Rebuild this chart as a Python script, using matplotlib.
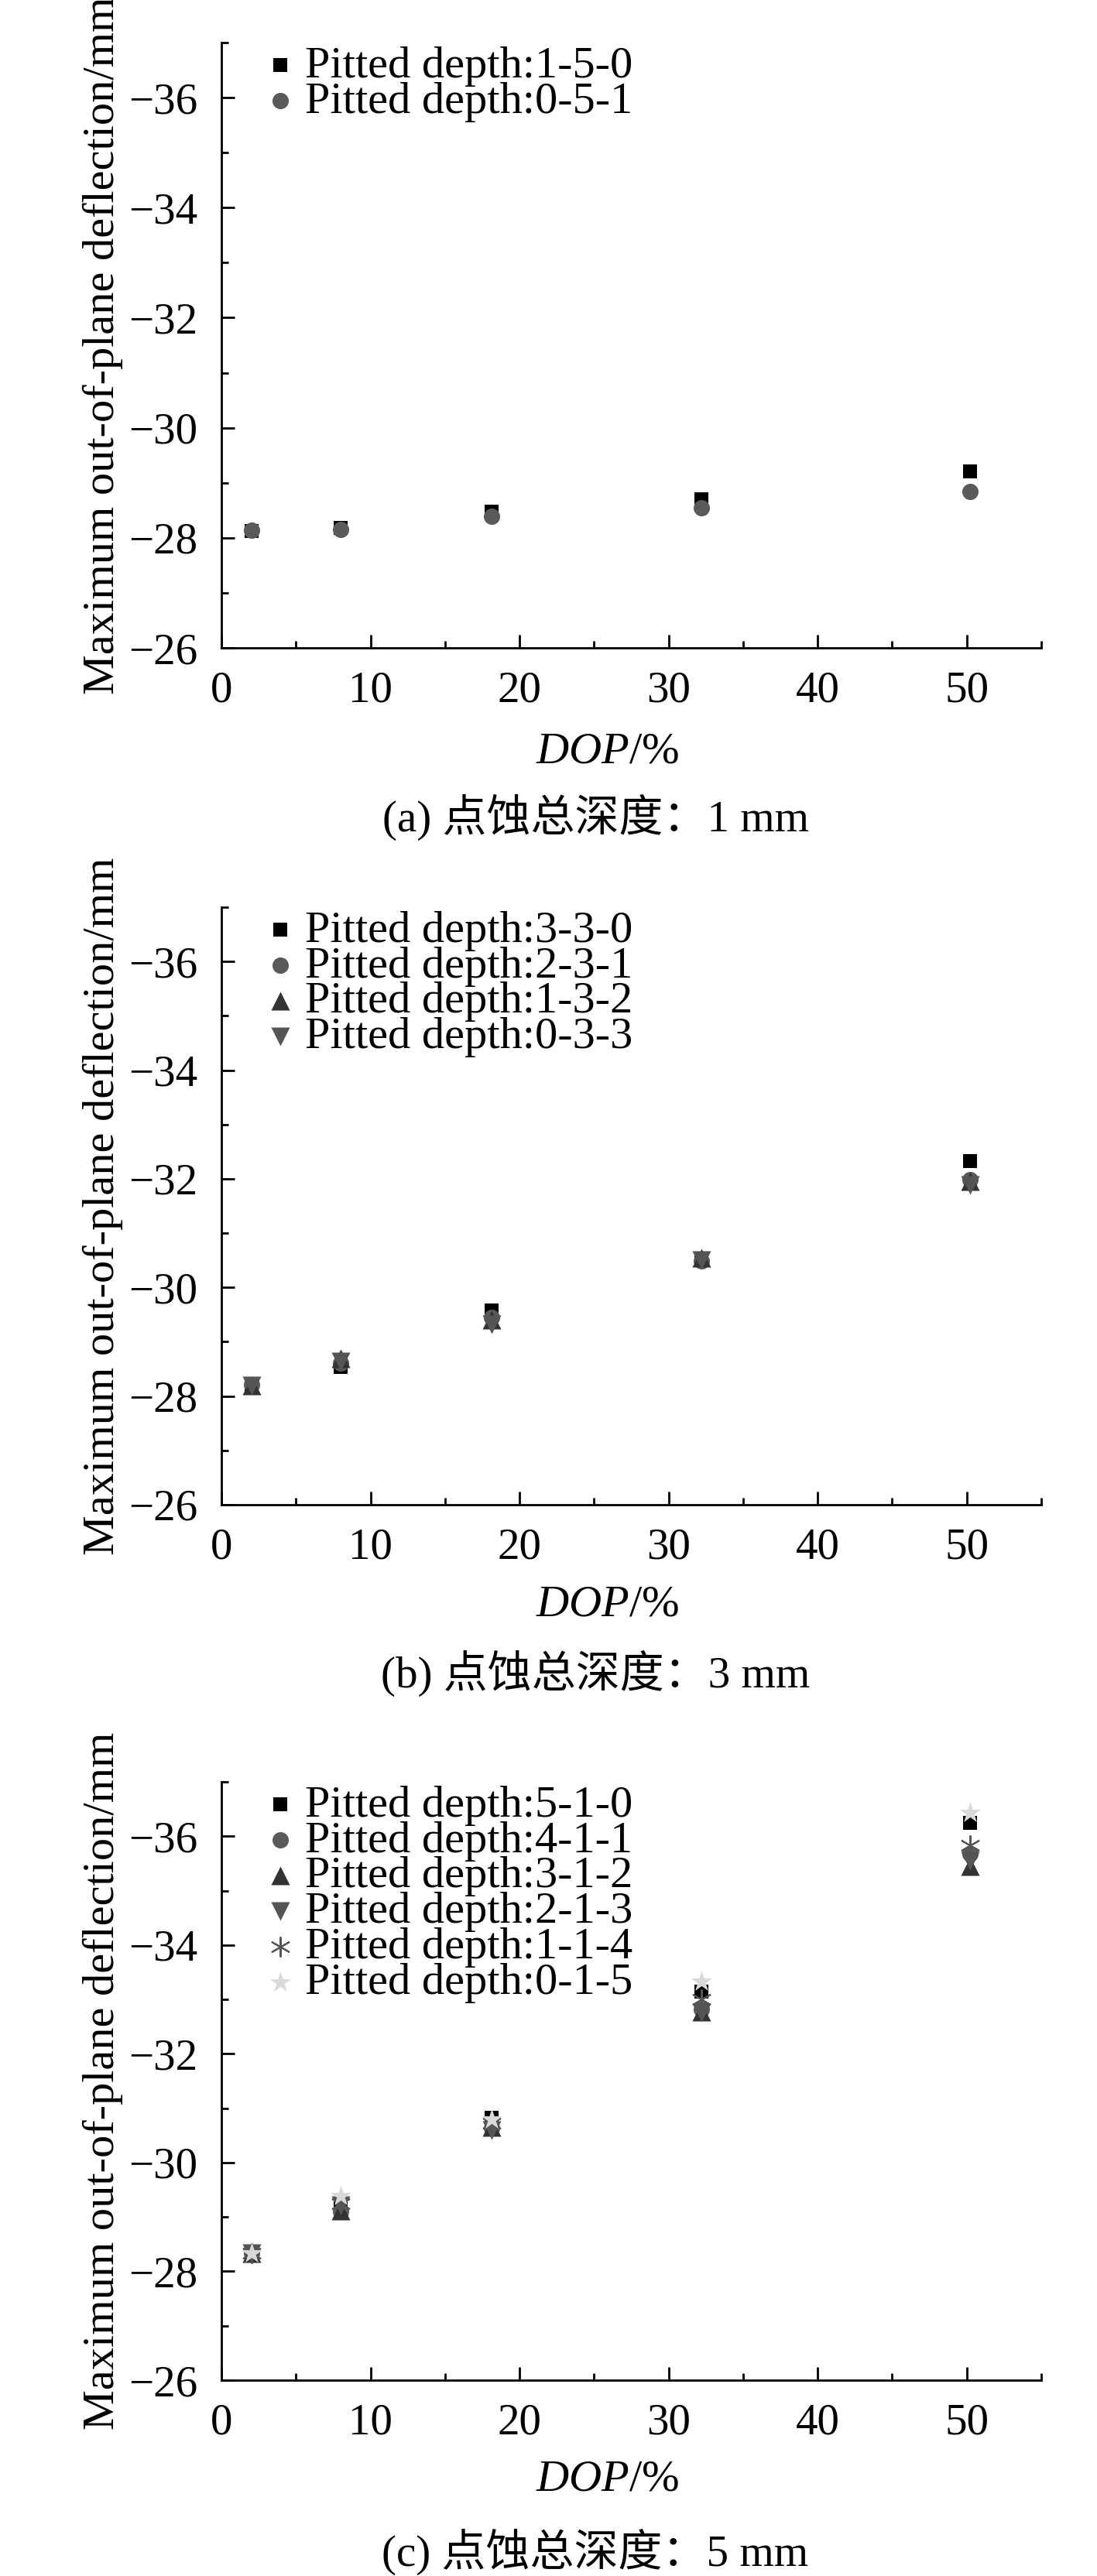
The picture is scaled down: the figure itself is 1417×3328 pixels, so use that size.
import matplotlib
matplotlib.use("Agg")
import matplotlib.pyplot as plt
from matplotlib.ticker import MultipleLocator

plt.rcParams['font.family'] = ['Liberation Serif', 'Noto Sans CJK SC']
plt.rcParams['mathtext.fontset'] = 'custom'
plt.rcParams['mathtext.it'] = 'Liberation Serif:italic'
plt.rcParams['mathtext.rm'] = 'Liberation Serif'

# DOP values (%)
dop = [2.0, 8.0, 18.1, 32.2, 50.2]

# (a) total pitting depth 1 mm
labels_a = ["Pitted depth:1-5-0", "Pitted depth:0-5-1"]
values_a = [
    [-28.13, -28.18, -28.48, -28.70, -29.21],
    [-28.14, -28.15, -28.39, -28.54, -28.84],
]

# (b) total pitting depth 3 mm
labels_b = ["Pitted depth:3-3-0", "Pitted depth:2-3-1",
            "Pitted depth:1-3-2", "Pitted depth:0-3-3"]
values_b = [
    [-28.21, -28.53, -29.57, -30.51, -32.33],
    [-28.21, -28.61, -29.45, -30.49, -31.99],
    [-28.20, -28.69, -29.40, -30.55, -31.96],
    [-28.20, -28.64, -29.32, -30.50, -31.89],
]

# (c) total pitting depth 5 mm
labels_c = ["Pitted depth:5-1-0", "Pitted depth:4-1-1", "Pitted depth:3-1-2",
            "Pitted depth:2-1-3", "Pitted depth:1-1-4", "Pitted depth:0-1-5"]
values_c = [
    [-28.33, -29.20, -30.82, -33.14, -36.25],
    [-28.33, -29.10, -30.64, -32.81, -35.67],
    [-28.33, -29.12, -30.66, -32.78, -35.45],
    [-28.33, -29.21, -30.60, -32.76, -35.55],
    [-28.33, -29.25, -30.72, -33.00, -35.84],
    [-28.33, -29.38, -30.80, -33.33, -36.43],
]

captions = ["(a) 点蚀总深度：1 mm", "(b) 点蚀总深度：3 mm", "(c) 点蚀总深度：5 mm"]

markers = ['s', 'o', '^', 'v', (6, 2, 0), '*']
colors = ['#000000', '#5a5a5a', '#333333', '#555555', '#555555', '#d9d9d9']
sizes = [170, 230, 300, 300, 320, 420]

W, H = 1417, 3328
fig = plt.figure(figsize=(W / 100, H / 100), dpi=100)

# axes boxes in pixels: top, bottom
boxes = [(55, 837), (1172, 1944), (2302, 3075)]
xlab_y = [972, 2073, 3203]
cap_y = [1056, 2162, 3297]
left, right = 286, 1345

panels = [(labels_a, values_a), (labels_b, values_b), (labels_c, values_c)]

for k, (labels, values) in enumerate(panels):
    top, bot = boxes[k]
    ax = fig.add_axes([left / W, 1 - bot / H, (right - left) / W, (bot - top) / H])
    for i, (lab, vals) in enumerate(zip(labels, values)):
        lw = 1.5 if markers[i] == (6, 2, 0) else 0
        ax.scatter(dop, vals, marker=markers[i], s=sizes[i], color=colors[i],
                   linewidths=lw, label=lab)

    ax.set_xlim(0, 55)
    ax.set_ylim(-26, -37)
    ax.xaxis.set_major_locator(MultipleLocator(10))
    ax.xaxis.set_minor_locator(MultipleLocator(5))
    ax.yaxis.set_major_locator(MultipleLocator(2))
    ax.yaxis.set_minor_locator(MultipleLocator(1))
    ax.spines['top'].set_visible(False)
    ax.spines['right'].set_visible(False)
    for sp in ['left', 'bottom']:
        ax.spines[sp].set_linewidth(2)
    ax.tick_params(which='both', direction='in', width=2, labelsize=41)
    ax.tick_params(which='major', length=12)
    ax.tick_params(which='minor', length=6.5)
    ax.tick_params(axis='x', pad=21)
    ax.tick_params(axis='y', pad=22)

    ax.set_ylabel("Maximum out-of-plane deflection/mm", fontsize=42)
    ax.yaxis.set_label_coords(-0.12, 0.5)

    fig.text(785 / W, 1 - xlab_y[k] / H, r"$\mathit{DOP}$/%", fontsize=42,
             ha='center', va='center')
    fig.text(769 / W, 1 - cap_y[k] / H, captions[k], fontsize=41,
             ha='center', va='center')

    ax.legend(loc='upper left', bbox_to_anchor=(0.058, 0.995), frameon=False,
              fontsize=42, handlelength=0.5, handletextpad=0.3,
              labelspacing=-0.12, borderpad=0, borderaxespad=0)

fig.savefig("out.png", dpi=100)
